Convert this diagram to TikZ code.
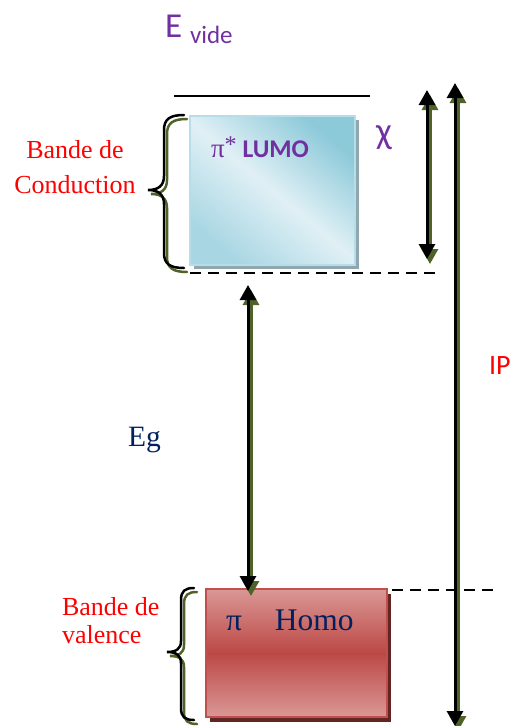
\documentclass[tikz,border=0pt]{standalone}
\usepackage{fontspec}
\setmainfont{Liberation Serif}
\newfontfamily\calibri{Carlito}
\usetikzlibrary{arrows.meta,shadows}

\definecolor{vpurple}{HTML}{7030A0}
\definecolor{inkblue}{HTML}{002060}
\definecolor{olivesh}{HTML}{4F6228}
\definecolor{lumodark}{HTML}{8CC9D9}
\definecolor{lumolight}{HTML}{E0F0F5}
\definecolor{lumomid}{HTML}{A8D6E3}
\definecolor{lumoedge}{HTML}{B7DDE8}
\definecolor{lumoshade}{HTML}{8FA8B0}
\definecolor{homopink}{HTML}{DA9896}
\definecolor{homored}{HTML}{BC4845}
\definecolor{homoedge}{HTML}{C0504D}
\definecolor{homoshade}{HTML}{632523}

\begin{document}
\begin{tikzpicture}[x=1pt,y=-1pt,
  txt/.style={inner sep=0pt, outer sep=0pt},
  solidlevel/.style={line width=2.7pt, draw=black},
  dashlevel/.style={line width=2.6pt, draw=black, dash pattern=on 11pt off 7pt},
  bidir/.style={line width=3pt,
    {Triangle[width=16pt,length=15pt]}-{Triangle[width=16pt,length=15pt]}},
  arrowback/.style={bidir, draw=olivesh, transform canvas={xshift=3pt,yshift=-5pt}},
  arrowfront/.style={bidir, draw=black},
  bracefront/.style={line width=2.5pt, draw=black, line cap=round},
  braceback/.style={line width=2.5pt, draw=olivesh, line cap=round,
    transform canvas={xshift=3pt,yshift=-4pt}},
  lumobox/.style={draw=lumoedge, line width=2pt, minimum width=165pt, minimum height=149pt,
    top color=lumodark, bottom color=lumomid, middle color=lumolight, shading angle=-40,
    drop shadow={shadow xshift=4pt, shadow yshift=-4pt, fill=lumoshade, opacity=1}},
  homobox/.style={draw=homoedge, line width=2pt, minimum width=181pt, minimum height=128pt,
    top color=homopink, bottom color=homopink, middle color=homored,
    drop shadow={shadow xshift=4pt, shadow yshift=-5pt, fill=homoshade, opacity=1}},
]
\useasboundingbox (0,0) rectangle (512,726);

% energy of the vacuum
\node[txt, anchor=base west, text=vpurple] (evide) at (165,37)
  {\calibri\fontsize{35}{35}\selectfont E\hspace{8pt}\raisebox{-6pt}{\fontsize{25}{25}\selectfont vide}};
\coordinate (vacL) at (174,96);
\coordinate (vacR) at (370,96);
\draw[solidlevel] (vacL) -- (vacR);

% bands
\node[lumobox] (lumo) at (272.5,190.5) {};
\node[homobox] (homo) at (296.5,653) {};

\node[txt, anchor=base west, text=vpurple] (lumolabel) at (211,157)
  {\fontsize{27}{27}\selectfont π\raisebox{5pt}{\fontsize{24}{24}\selectfont *}\hspace{6pt}\calibri\fontsize{25.5}{25.5}\selectfont\bfseries LUMO};
\node[txt, anchor=base west, text=inkblue] (homolabel) at (226,630)
  {\fontsize{31.5}{31.5}\selectfont π\hspace{33pt}Homo};

% band edges
\coordinate (lcL) at (190,273);
\coordinate (lcR) at (438,273);
\draw[dashlevel] (lcL) -- (lcR);
\coordinate (hvL) at (392,590);
\coordinate (hvR) at (500,590);
\draw[dashlevel] (hvL) -- (hvR);

% braces
\draw[braceback] (184,115) .. controls (170,115) and (164,119) .. (164,130) -- (164,176)
  .. controls (164,186) and (158,190) .. (148,190) .. controls (158,190) and (164,194) .. (164,204)
  -- (164,253) .. controls (164,264) and (170,268) .. (184,268);
\draw[bracefront] (184,115) .. controls (170,115) and (164,119) .. (164,130) -- (164,176)
  .. controls (164,186) and (158,190) .. (148,190) .. controls (158,190) and (164,194) .. (164,204)
  -- (164,253) .. controls (164,264) and (170,268) .. (184,268);
\draw[braceback] (194,588) .. controls (185,588) and (181,591) .. (181,600) -- (181,641)
  .. controls (181,649) and (176,652) .. (167,652) .. controls (176,652) and (181,655) .. (181,663)
  -- (181,708) .. controls (181,717) and (185,720) .. (194,720);
\draw[bracefront] (194,588) .. controls (185,588) and (181,591) .. (181,600) -- (181,641)
  .. controls (181,649) and (176,652) .. (167,652) .. controls (176,652) and (181,655) .. (181,663)
  -- (181,708) .. controls (181,717) and (185,720) .. (194,720);

% the base anchor of a two-line node sits on the last line
\node[txt, anchor=base, align=center, text=red,
  font=\fontsize{26}{35}\selectfont] (bc) at (75,193) {Bande de\\Conduction};
\node[txt, anchor=base west, align=left, text=red,
  font=\fontsize{26}{28}\selectfont] (bv) at (62,643) {Bande de\\valence};

% energy arrows
\coordinate (chiT) at (427,90);
\coordinate (chiB) at (427,259);
\draw[arrowback] (chiT) -- (chiB);
\draw[arrowfront] (chiT) -- (chiB);
\node[txt, anchor=base west, text=vpurple] (chi) at (376,143)
  {\calibri\fontsize{37}{37}\selectfont χ};

\coordinate (ipT) at (455,83);
\coordinate (ipB) at (455,726);
\draw[arrowback] (ipT) -- (ipB);
\draw[arrowfront] (ipT) -- (ipB);
\node[txt, anchor=base west, text=red] (ip) at (489,374)
  {\calibri\fontsize{28}{28}\selectfont IP};

\coordinate (egT) at (248,285);
\coordinate (egB) at (248,591);
\draw[arrowback] (egT) -- (egB);
\draw[arrowfront] (egT) -- (egB);
\node[txt, anchor=base west, text=inkblue] (eg) at (128,446)
  {\fontsize{29.5}{29.5}\selectfont Eg};
\end{tikzpicture}
\end{document}
